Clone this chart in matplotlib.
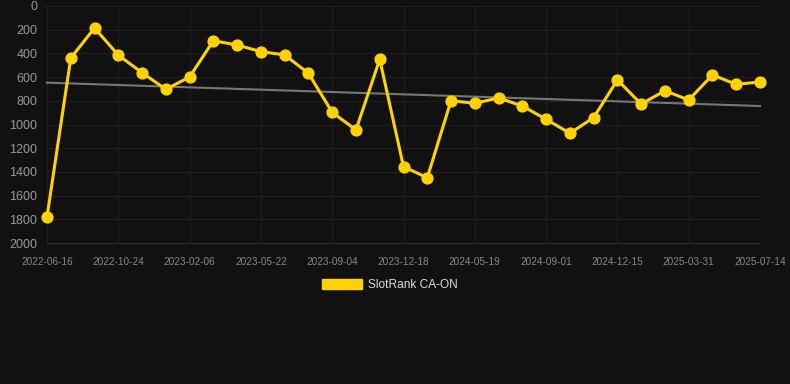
import numpy as np
import matplotlib.pyplot as plt
from matplotlib.patches import Patch

# SlotRank values, one per category (every 3rd one is labelled)
ranks = [1780, 440, 185, 415, 563, 703, 599, 293, 329, 385, 413, 568, 897, 1046, 450,
         1356, 1449, 799, 821, 776, 844, 956, 1074, 942, 624, 827, 715, 793, 582, 661, 641]
tick_labels = ['2022-06-16', '2022-10-24', '2023-02-06', '2023-05-22', '2023-09-04',
               '2023-12-18', '2024-05-19', '2024-09-01', '2024-12-15', '2025-03-31',
               '2025-07-14']
trend_ends = [647, 844]
y_ticks = [0, 200, 400, 600, 800, 1000, 1200, 1400, 1600, 1800, 2000]

bg = '#111111'
gold = '#FFD200'

plt.rcParams['font.family'] = ['Liberation Sans', 'DejaVu Sans']

fig = plt.figure(figsize=(7.9, 3.84), dpi=100, facecolor=bg)
ax = fig.add_axes([47 / 790, 1 - 243 / 384, 713 / 790, 237 / 384])
ax.set_facecolor(bg)

x = np.arange(len(ranks))
ax.plot([x[0], x[-1]], trend_ends, color='#777777', lw=1.5, zorder=2)
ax.plot(x, ranks, color=gold, lw=2.2, marker='o', markersize=7.8, zorder=3)

ax.set_xlim(x[0], x[-1])
ax.set_ylim(2000, 0)
ax.set_yticks(y_ticks)
ax.set_xticks(x[::3])
ax.set_xticklabels(tick_labels)

ax.grid(True, color='#1f1f1f', lw=0.8)
ax.set_axisbelow(True)
for s in ['top', 'right', 'left']:
    ax.spines[s].set_visible(False)
ax.spines['bottom'].set_color('#2e2e2e')
ax.tick_params(axis='both', length=0)
ax.tick_params(axis='y', colors='#999999', labelsize=9, pad=7)
ax.tick_params(axis='x', colors='#888888', labelsize=7.2, pad=10)
for ln in ax.lines:
    ln.set_clip_on(False)

fig.legend(handles=[Patch(facecolor=gold, edgecolor=gold)], labels=['SlotRank CA-ON'],
           loc='center', bbox_to_anchor=(390 / 790, 1 - 285 / 384), frameon=False,
           labelcolor='#dddddd', fontsize=8.6, handlelength=3.3, handleheight=0.9,
           handletextpad=0.55)

fig.savefig('out.png', dpi=100, facecolor=bg)
